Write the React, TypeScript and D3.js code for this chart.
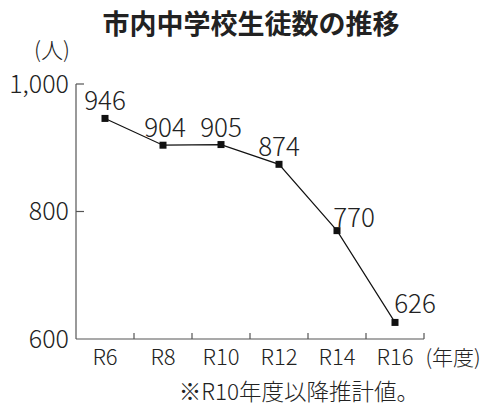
import React from "react";
import * as d3 from "d3";

const categories = ["R6", "R8", "R10", "R12", "R14", "R16"];
const students = [946, 904, 905, 874, 770, 626];
const yTicks = [600, 800, 1000];
const title = "市内中学校生徒数の推移";
const yUnit = "(人)";
const xUnit = "(年度)";
const footnote = "※R10年度以降推計値。";

const W = 486;
const H = 405;
const FONT = "'Noto Sans CJK JP', 'Noto Sans', sans-serif";
const TEXT = "#222";
const AXIS = "#555";
const LIGHT = 300;

// label placement per point (style, not data)
const labelDx = [0, 2, 0, 0, 17, 20];
const labelDy = [-8, -8, -8, -8, -4, -9];

export default function App() {
  const x = d3.scaleBand<string>().domain(categories).range([76, 424]);
  const y = d3.scaleLinear().domain([600, 1000]).range([339, 84]);
  const cx = (c: string) => (x(c) as number) + x.bandwidth() / 2;
  const line = d3
    .line<number>()
    .x((_, i) => cx(categories[i]))
    .y((d) => y(d));
  const x0 = x.range()[0];
  const x1 = x.range()[1];
  const boundaries = categories.map((c) => (x(c) as number) + x.bandwidth());

  return (
    <svg
      width={W}
      height={H}
      style={{ position: "absolute", left: 0, top: 0, background: "#fff" }}
      fontFamily={FONT}
    >
      <text x={251} y={34} textAnchor="middle" fontSize={27} fontWeight={700} fill={TEXT}>
        {title}
      </text>
      <text x={52} y={58} textAnchor="middle" fontSize={22} fontWeight={LIGHT} fill={TEXT}>
        {yUnit}
      </text>
      {/* y axis */}
      <line x1={x0} x2={x0} y1={y(1000)} y2={y(600)} stroke={AXIS} strokeWidth={1.2} />
      {yTicks.map((t) => (
        <g key={t}>
          {t !== 600 && (
            <line x1={x0} x2={x0 + 8} y1={y(t)} y2={y(t)} stroke={AXIS} strokeWidth={1.2} />
          )}
          <text
            x={69}
            y={y(t)}
            dy="0.35em"
            textAnchor="end"
            fontSize={25}
            fontWeight={LIGHT}
            fill={TEXT}
          >
            {d3.format(",")(t)}
          </text>
        </g>
      ))}
      {/* x axis */}
      <line x1={x0} x2={x1} y1={y(600)} y2={y(600)} stroke={AXIS} strokeWidth={1.2} />
      {boundaries.map((b, i) => (
        <line key={i} x1={b} x2={b} y1={y(600)} y2={y(600) - 6} stroke={AXIS} strokeWidth={1.2} />
      ))}
      {categories.map((c) => (
        <text key={c} x={cx(c)} y={365} textAnchor="middle" fontSize={22} fontWeight={LIGHT} fill={TEXT}>
          {c}
        </text>
      ))}
      <text x={453} y={365} textAnchor="middle" fontSize={21} fontWeight={LIGHT} fill={TEXT}>
        {xUnit}
      </text>
      <text x={299} y={400} textAnchor="middle" fontSize={22.5} fontWeight={LIGHT} fill={TEXT}>
        {footnote}
      </text>
      {/* series */}
      <path d={line(students) || ""} fill="none" stroke="#111" strokeWidth={1.2} />
      {students.map((v, i) => (
        <rect
          key={i}
          x={cx(categories[i]) - 3.5}
          y={y(v) - 3.5}
          width={7}
          height={7}
          fill="#111"
        />
      ))}
      {students.map((v, i) => (
        <text
          key={"l" + i}
          x={cx(categories[i]) + labelDx[i]}
          y={y(v) + labelDy[i]}
          textAnchor="middle"
          fontSize={26}
          fontWeight={LIGHT}
          fill={TEXT}
        >
          {v}
        </text>
      ))}
    </svg>
  );
}
